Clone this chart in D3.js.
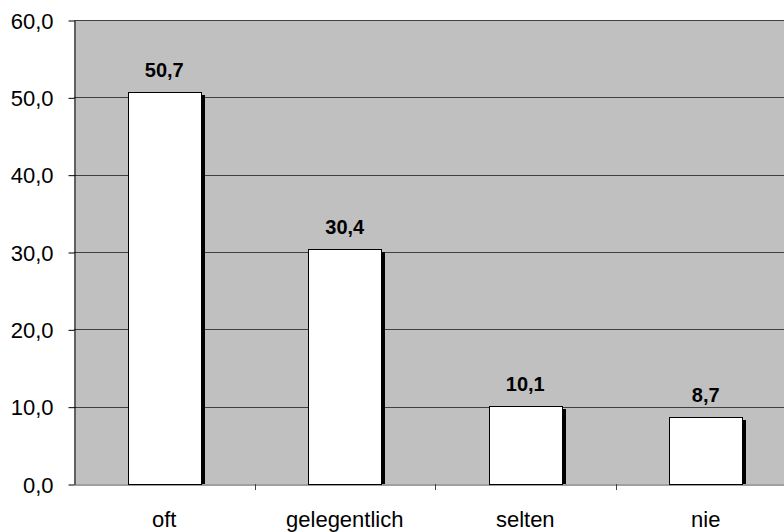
<!DOCTYPE html>
<html><head><meta charset="utf-8">
<script src="https://cdn.jsdelivr.net/npm/d3@7"></script>
<style>body{margin:0;background:#fff}svg{display:block}</style>
</head><body>
<script>
const categories = ["oft", "gelegentlich", "selten", "nie"];
const values = [50.7, 30.4, 10.1, 8.7];
const yTicks = [0, 10, 20, 30, 40, 50, 60];

const W = 784, H = 532;
const m = {left: 74, top: 20, right: -12, bottom: 48};
const svg = d3.select("body").append("svg").attr("width", W).attr("height", H);
const fmt = v => d3.format(".1f")(v).replace(".", ",");
const FONT = "Liberation Sans, Arial, sans-serif";

const x = d3.scaleBand().domain(categories).range([m.left, W - m.right]).paddingInner(0).paddingOuter(0);
const y = d3.scaleLinear().domain([0, 60]).range([H - m.bottom, m.top]);

// plot background
svg.append("rect").attr("x", m.left).attr("y", m.top)
  .attr("width", W - m.right - m.left).attr("height", y(0) - m.top).attr("fill", "#c0c0c0");

// gridlines
svg.append("g").selectAll("line").data(yTicks.filter(t => t > 0)).join("line")
  .attr("x1", m.left).attr("x2", W).attr("y1", d => Math.round(y(d)) + 0.5).attr("y2", d => Math.round(y(d)) + 0.5)
  .attr("stroke", "#404040").attr("stroke-width", 1);

// y axis
const yAxis = d3.axisLeft(y).tickValues(yTicks).tickFormat(fmt).tickSize(6).tickSizeOuter(0);
const gy = svg.append("g").attr("transform", `translate(${m.left + 0.5},0.5)`).call(yAxis);
gy.selectAll("path,line").attr("stroke", "#000");
gy.selectAll("text").attr("font-family", FONT).attr("font-size", 22)
  .attr("fill", "#000").attr("x", -21).attr("dy", "0.35em");

// x axis
const xAxis = d3.axisBottom(x).tickSize(0).tickSizeOuter(0);
const gx = svg.append("g").attr("transform", `translate(0,${Math.round(y(0)) + 0.5})`).call(xAxis);
gx.select("path").attr("stroke", "#404040");
gx.selectAll("text").attr("font-family", FONT).attr("font-size", 22)
  .attr("fill", "#000").attr("y", 42.5).attr("dy", 0);
// category separator ticks
svg.append("g").selectAll("line").data(categories.slice(1)).join("line")
  .attr("x1", d => Math.round(x(d)) + 0.5).attr("x2", d => Math.round(x(d)) + 0.5)
  .attr("y1", y(0)).attr("y2", y(0) + 6).attr("stroke", "#404040");

const bw = 73;
const bars = svg.append("g").selectAll("g").data(values).join("g");
// shadow
bars.append("rect")
  .attr("x", (d, i) => Math.round(x(categories[i]) + x.bandwidth() / 2 - bw / 2) + bw)
  .attr("y", d => Math.round(y(d)) + 3)
  .attr("width", 4)
  .attr("height", d => Math.round(y(0)) - Math.round(y(d)) - 3)
  .attr("fill", "#000");
bars.append("rect")
  .attr("x", (d, i) => Math.round(x(categories[i]) + x.bandwidth() / 2 - bw / 2) + 0.5)
  .attr("y", d => Math.round(y(d)) + 0.5)
  .attr("width", bw)
  .attr("height", d => Math.round(y(0)) - Math.round(y(d)))
  .attr("fill", "#fff").attr("stroke", "#000").attr("stroke-width", 1);
bars.append("text")
  .attr("x", (d, i) => x(categories[i]) + x.bandwidth() / 2)
  .attr("y", d => y(d) - 15)
  .attr("text-anchor", "middle")
  .attr("font-family", FONT).attr("font-size", 20).attr("font-weight", "bold")
  .text(d => fmt(d));
</script>
</body></html>
